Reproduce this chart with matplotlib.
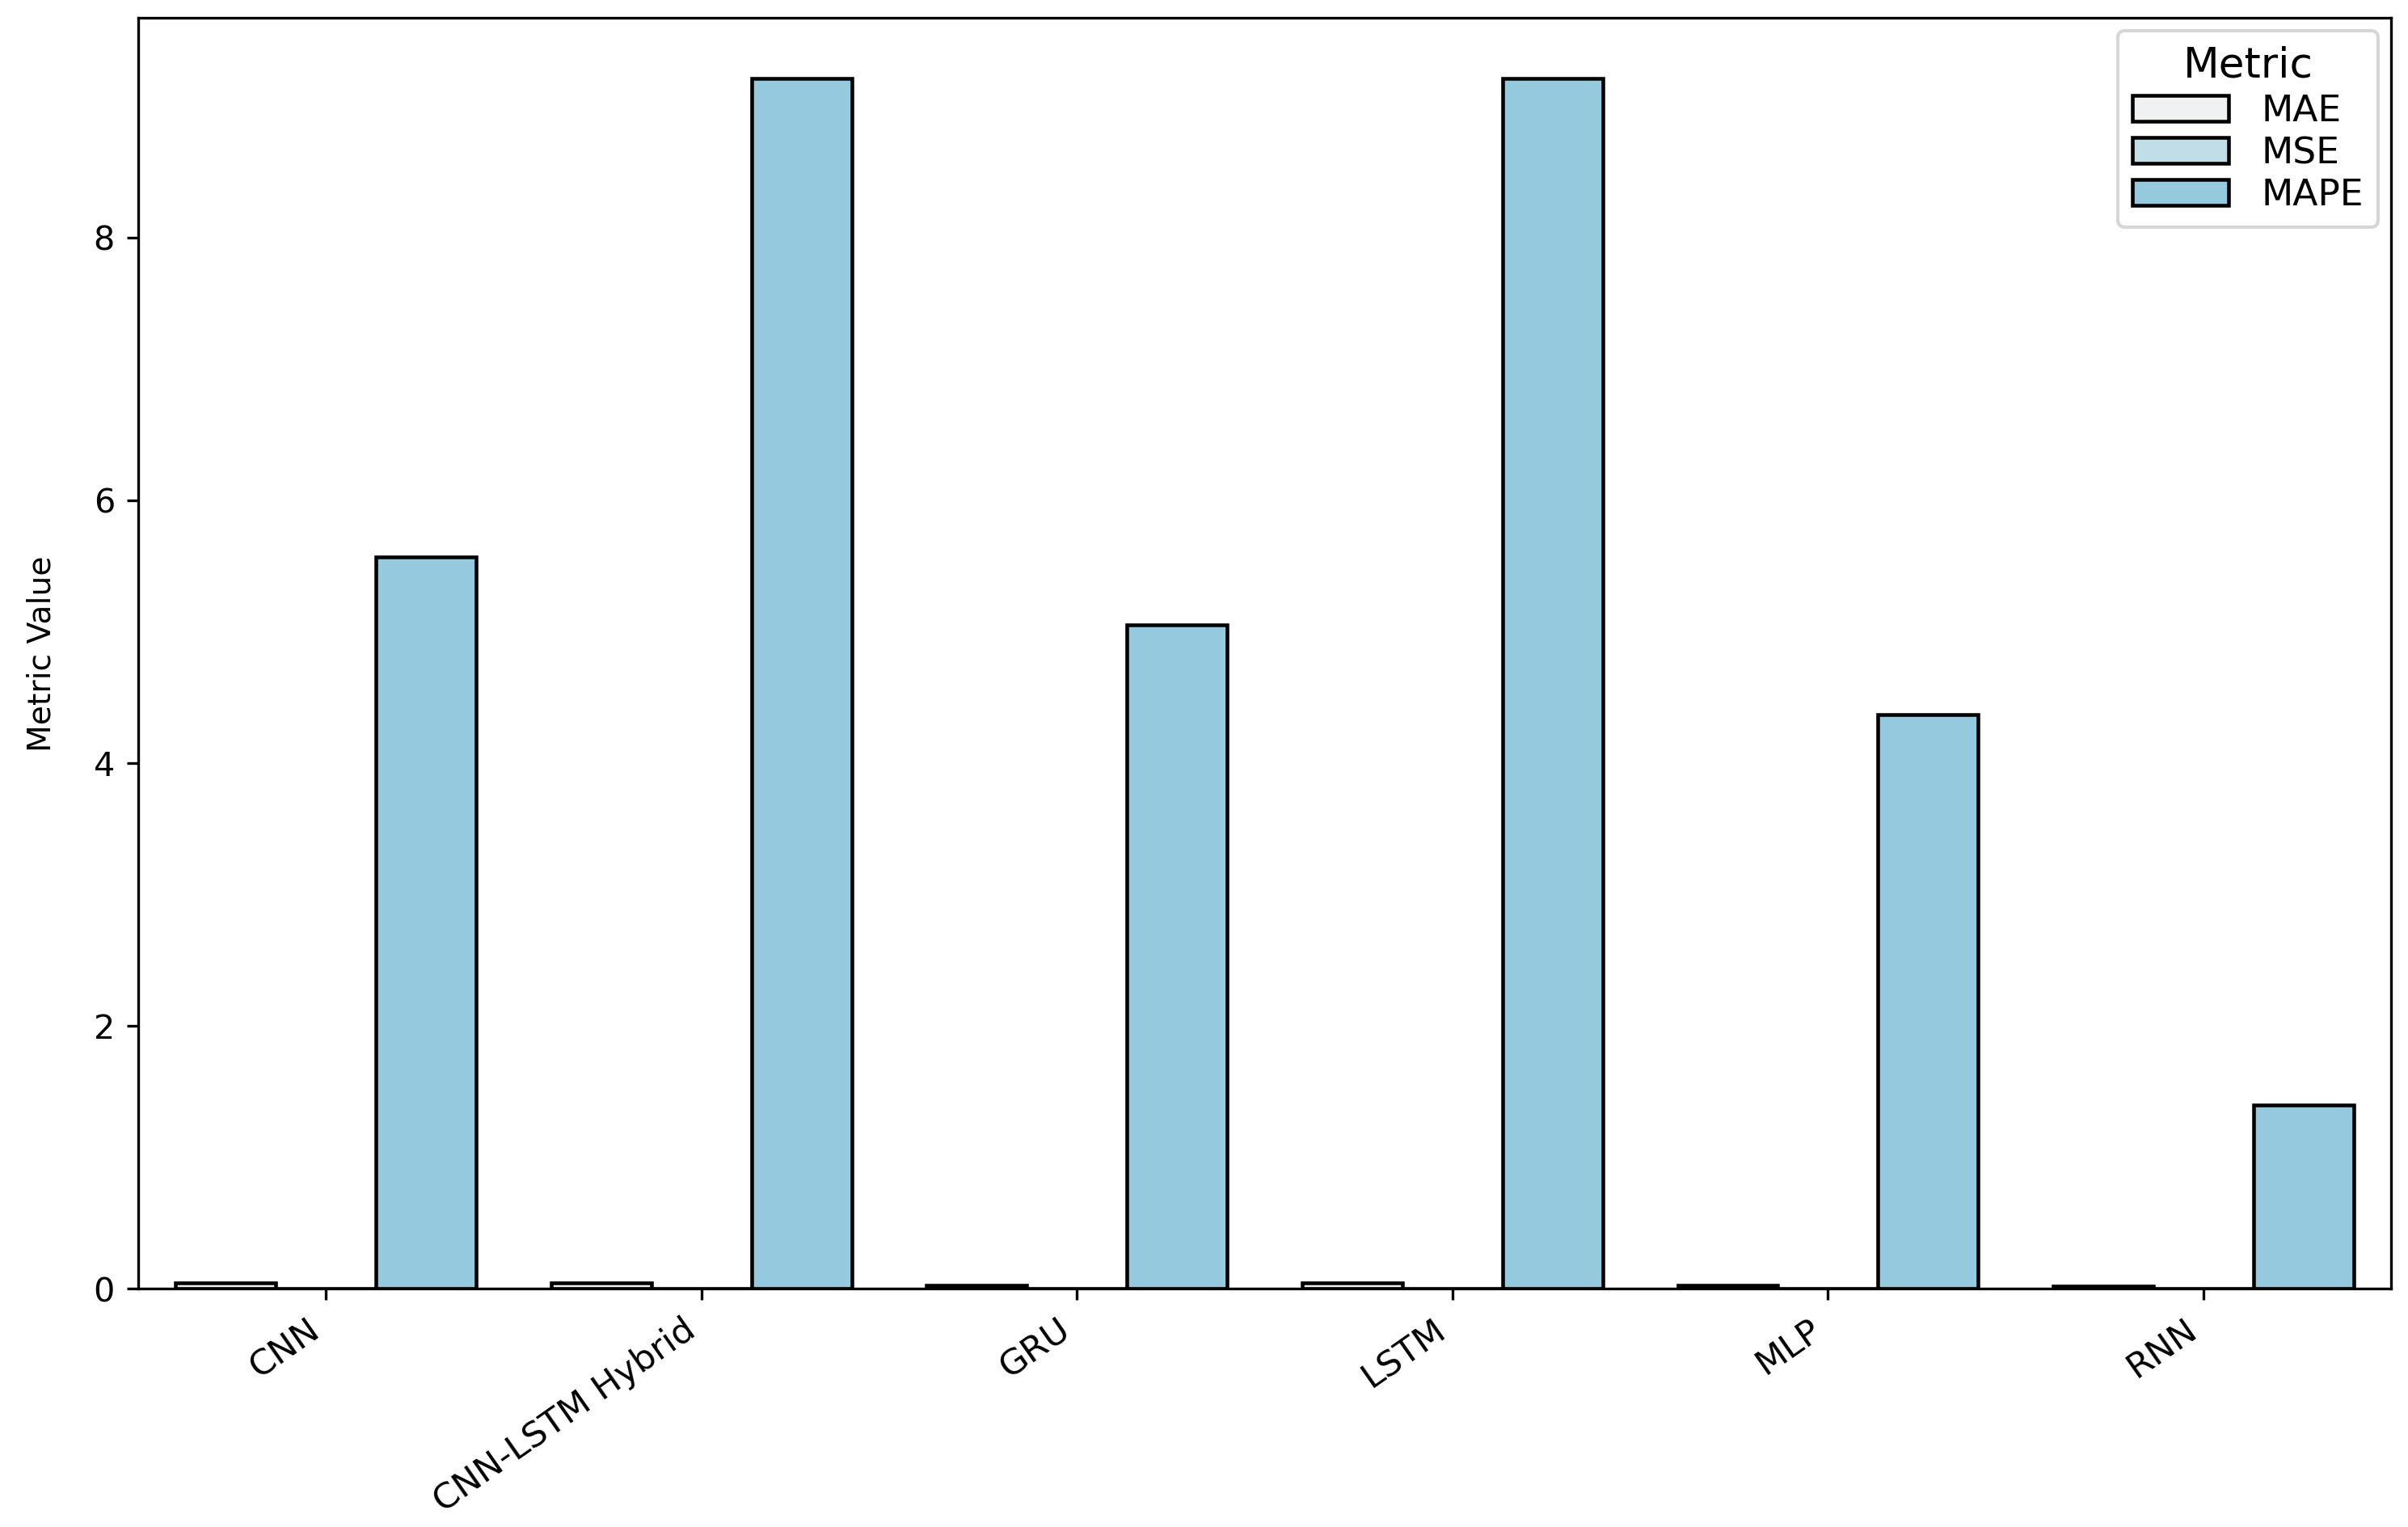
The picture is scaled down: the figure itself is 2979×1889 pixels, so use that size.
import pandas as pd
import seaborn as sns
from matplotlib import pyplot as plt

# ------------------------------------------------------------
# values
models = ['CNN', 'CNN-LSTM Hybrid', 'GRU', 'LSTM', 'MLP', 'RNN']
metrics = ['MAE', 'MSE', 'MAPE']
mae = [0.045, 0.045, 0.025, 0.045, 0.025, 0.022]
mse = [0.003, 0.003, 0.001, 0.003, 0.001, 0.0005]
mape = [5.57, 9.21, 5.05, 9.21, 4.37, 1.40]

df = pd.DataFrame({'Model': models, 'MAE': mae, 'MSE': mse, 'MAPE': mape})
df_long = df.melt(id_vars='Model', value_vars=metrics,
                  var_name='Metric', value_name='Metric Value')

# ------------------------------------------------------------
# plot
fig, ax = plt.subplots(figsize=(10, 6.3423))

sns.barplot(data=df_long, x='Model', y='Metric Value', hue='Metric',
            palette='light:skyblue', edgecolor='black', linewidth=1.1, ax=ax)

ax.set_xlabel('')
ax.set_ylabel('Metric Value', fontsize=9.5, labelpad=11)
plt.xticks(rotation=35, ha='right', fontsize=10.5)
ax.legend(title='Metric', loc='upper right', fontsize=11, title_fontsize=12.5,
          labelspacing=0.2, handlelength=2.6, handletextpad=0.9,
          borderaxespad=0.35)

plt.subplots_adjust(left=0.0574, right=0.993, top=0.988, bottom=0.156)
plt.savefig('out.png', dpi=297.9)
